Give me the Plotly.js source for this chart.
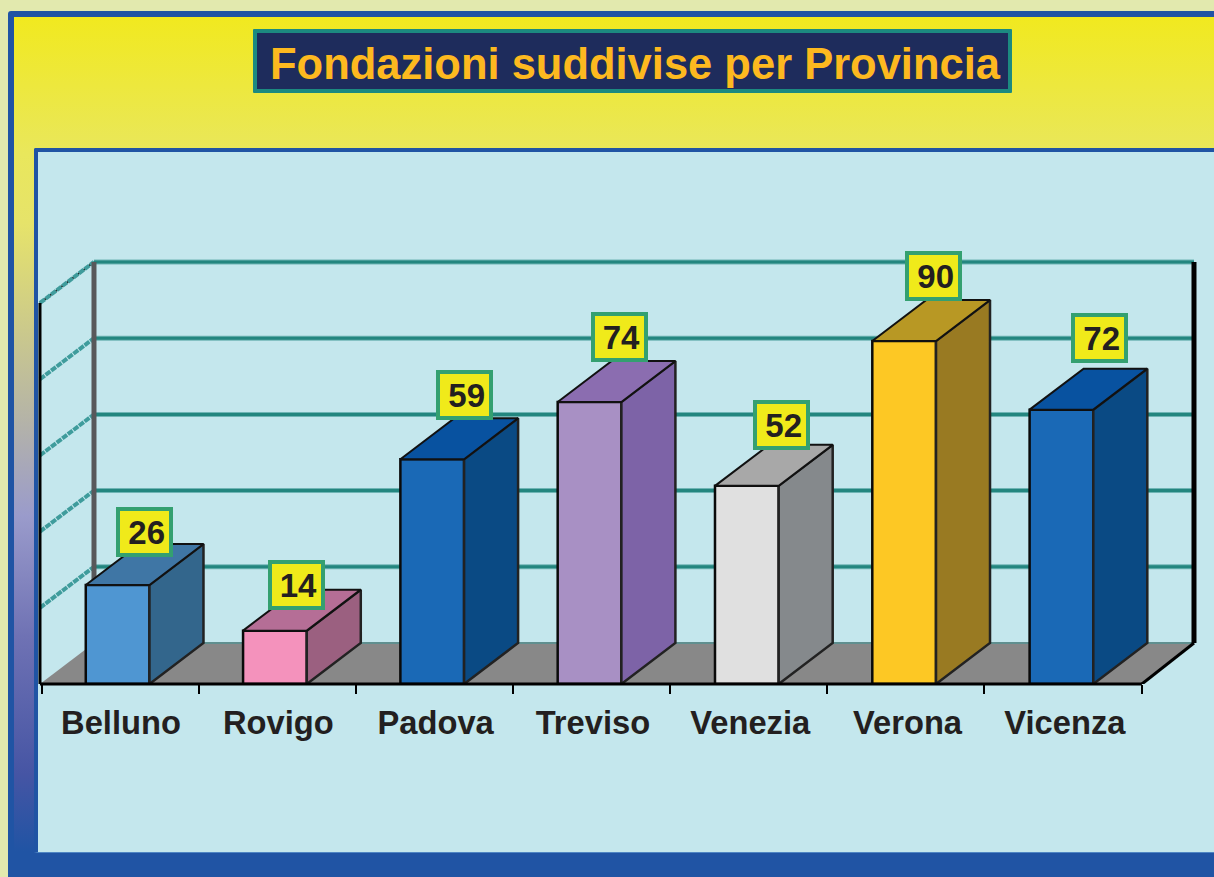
<!DOCTYPE html>
<html><head><meta charset="utf-8">
<script src="https://cdn.plot.ly/plotly-3.0.1.min.js"></script>
<style>
html,body{margin:0;padding:0;width:1214px;height:877px;overflow:hidden;background:#e2e9ae}
#frame{position:absolute;left:8px;top:11px;width:1206px;height:866px;background:#2054a4;border-top-left-radius:3px}
#fill{position:absolute;left:14px;top:17px;width:1200px;height:860px;
background:linear-gradient(180deg,#f1e91f 0%,#e9e75c 16%,#e6e36a 24%,#b4b3a8 47%,#9a9bcb 58%,#6f72b4 72%,#4655a4 88%,#2054a4 97%,#2054a4 100%)}
#panel{position:absolute;left:34px;top:148px;background:#c4e7ed;border:4px solid #2054a4;border-right:0;border-bottom-color:#4f86c4;border-bottom-width:1px;width:1180px;height:700px;border-top-left-radius:2px}
#titlebox{position:absolute;left:253px;top:29px;width:751px;height:56px;background:#1e2c5c;border:4px solid #1c8a80;border-radius:1px}
#chart{position:absolute;left:0;top:0;width:1214px;height:877px}
</style></head><body>
<div id="frame"></div><div id="fill"></div><div id="panel"></div><div id="titlebox"></div>
<div id="chart"></div>
<script>
const categories = ["Belluno","Rovigo","Padova","Treviso","Venezia","Verona","Vicenza"];
const values = [26,14,59,74,52,90,72];
const frontColors = ["#4f96d2","#f492bc","#1a69b6","#a890c4","#e0e0e0","#fdc824","#1a69b6"];
const topColors   = ["#3f76a5","#b56e96","#0852a0","#8b6db0","#a8a8a8","#b89824","#0852a0"];
const sideColors  = ["#33668c","#9b6080","#0a4a84","#7d63a7","#85898c","#997a22","#0a4a84"];
const gridValues = [20,40,60,80,100];
const labelShiftX = [27,22,32,30,35,29,38];
const labelShiftY = [53,46,64,65,61,65,72];
const tickMarks = [-0.5,0.496,1.494,2.492,3.49,4.488,5.486,6.49];

const depthX = 0.3433, depthY = 10.76;
const barWidth = 0.405, barOffset = -0.224;
const xRange = [-0.5785, 6.891], yRange = [0, 113.9];
const wallL = -0.515, wallR = 6.821, floorR = 6.49;

const traces = [{
  type:"bar", x:categories.map((c,i)=>i), y:values, width:barWidth, offset:barOffset,
  marker:{color:frontColors, line:{color:"#0a0a0a",width:2.5}}, hoverinfo:"skip", showlegend:false
}];
values.forEach((v,i)=>{
  const l=i+barOffset, r=l+barWidth;
  traces.push({type:"scatter",mode:"lines",x:[r,r+depthX,r+depthX,r,r],y:[0,depthY,v+depthY,v,0],
    fill:"toself",fillcolor:sideColors[i],line:{color:"#222",width:2.5},hoverinfo:"skip",showlegend:false});
  traces.push({type:"scatter",mode:"lines",x:[l,l+depthX,r+depthX,r,l],y:[v,v+depthY,v+depthY,v,v],
    fill:"toself",fillcolor:topColors[i],line:{color:"#111",width:2},hoverinfo:"skip",showlegend:false});
});

const line=(x0,x1,y0,y1,color,width,dash,layer)=>({type:"line",layer:layer||"below",xref:"x",yref:"y",x0,x1,y0,y1,line:{color,width,dash:dash||"solid"}});
const shapes = [];
// floor
shapes.push({type:"path",layer:"below",xref:"x",yref:"y",
  path:`M ${wallL} 0 L ${wallL+depthX} ${depthY} L ${wallR} ${depthY} L ${floorR} 0 Z`,
  fillcolor:"#888888",line:{width:0}});
shapes.push(line(wallL+depthX,wallR,depthY,depthY,"#5f8f8f",2));
// grid on the back wall and the left wall
gridValues.forEach(v=>{
  shapes.push(line(wallL+depthX,wallR,v+depthY,v+depthY,"#6fb5b5",5));
  shapes.push(line(wallL+depthX,wallR,v+depthY,v+depthY,"#23867f",3));
  if(v===100) shapes.push(line(wallL,wallL+depthX,v,v+depthY,"#222",2));
  shapes.push(line(wallL,wallL+depthX,v,v+depthY,"#3f9c9c",4,"6px,1px"));
});
// walls
shapes.push(line(wallL+depthX,wallL+depthX,depthY,100+depthY,"#58585a",5));
shapes.push(line(wallL,wallL,0,100,"#000",3));
shapes.push(line(wallR,wallR,depthY,100+depthY,"#000",5));
// base line, floor edge
shapes.push({type:"line",layer:"above",xref:"x",yref:"paper",x0:wallL,x1:floorR,y0:0,y1:0,line:{color:"#000",width:3}});
shapes.push(line(floorR,wallR,0,depthY,"#000",3));

const annotations = values.map((v,i)=>({
  xref:"x",yref:"y",x:i+barOffset+barWidth/2,y:v,xshift:labelShiftX[i],yshift:labelShiftY[i],
  text:String(v),showarrow:false,xanchor:"center",yanchor:"middle",
  font:{family:"Liberation Sans",size:33,color:"#231f20",weight:700},
  bgcolor:"#f0ea1a",bordercolor:"#34a070",borderwidth:4,borderpad:4,width:41,height:34,align:"right",valign:"middle"
}));

const layout = {
  width:1214,height:877,paper_bgcolor:"rgba(0,0,0,0)",plot_bgcolor:"rgba(0,0,0,0)",
  margin:{l:30,r:9,t:250,b:193,autoexpand:false},
  title:{text:"<b>Fondazioni suddivise per Provincia</b>",x:635/1214,xanchor:"center",xref:"container",
    y:1-64/877,yanchor:"middle",yref:"container",font:{family:"Liberation Sans",size:43.5,color:"#fdb91f"}},
  bargap:0,
  xaxis:{range:xRange,tickmode:"array",tickvals:categories.map((c,i)=>i),ticktext:categories,
    ticks:"",showgrid:false,zeroline:false,showline:false,ticklabelstandoff:16,
    tickfont:{family:"Liberation Sans",size:32.7,color:"#231f20",weight:700},
    minor:{tickmode:"array",tickvals:tickMarks,ticks:"outside",ticklen:9,tickwidth:2,tickcolor:"#000",showgrid:false},
    fixedrange:true},
  yaxis:{range:yRange,visible:false,fixedrange:true},
  shapes,annotations
};
Plotly.newPlot("chart",traces,layout,{displayModeBar:false,staticPlot:true});
</script>
</body></html>
